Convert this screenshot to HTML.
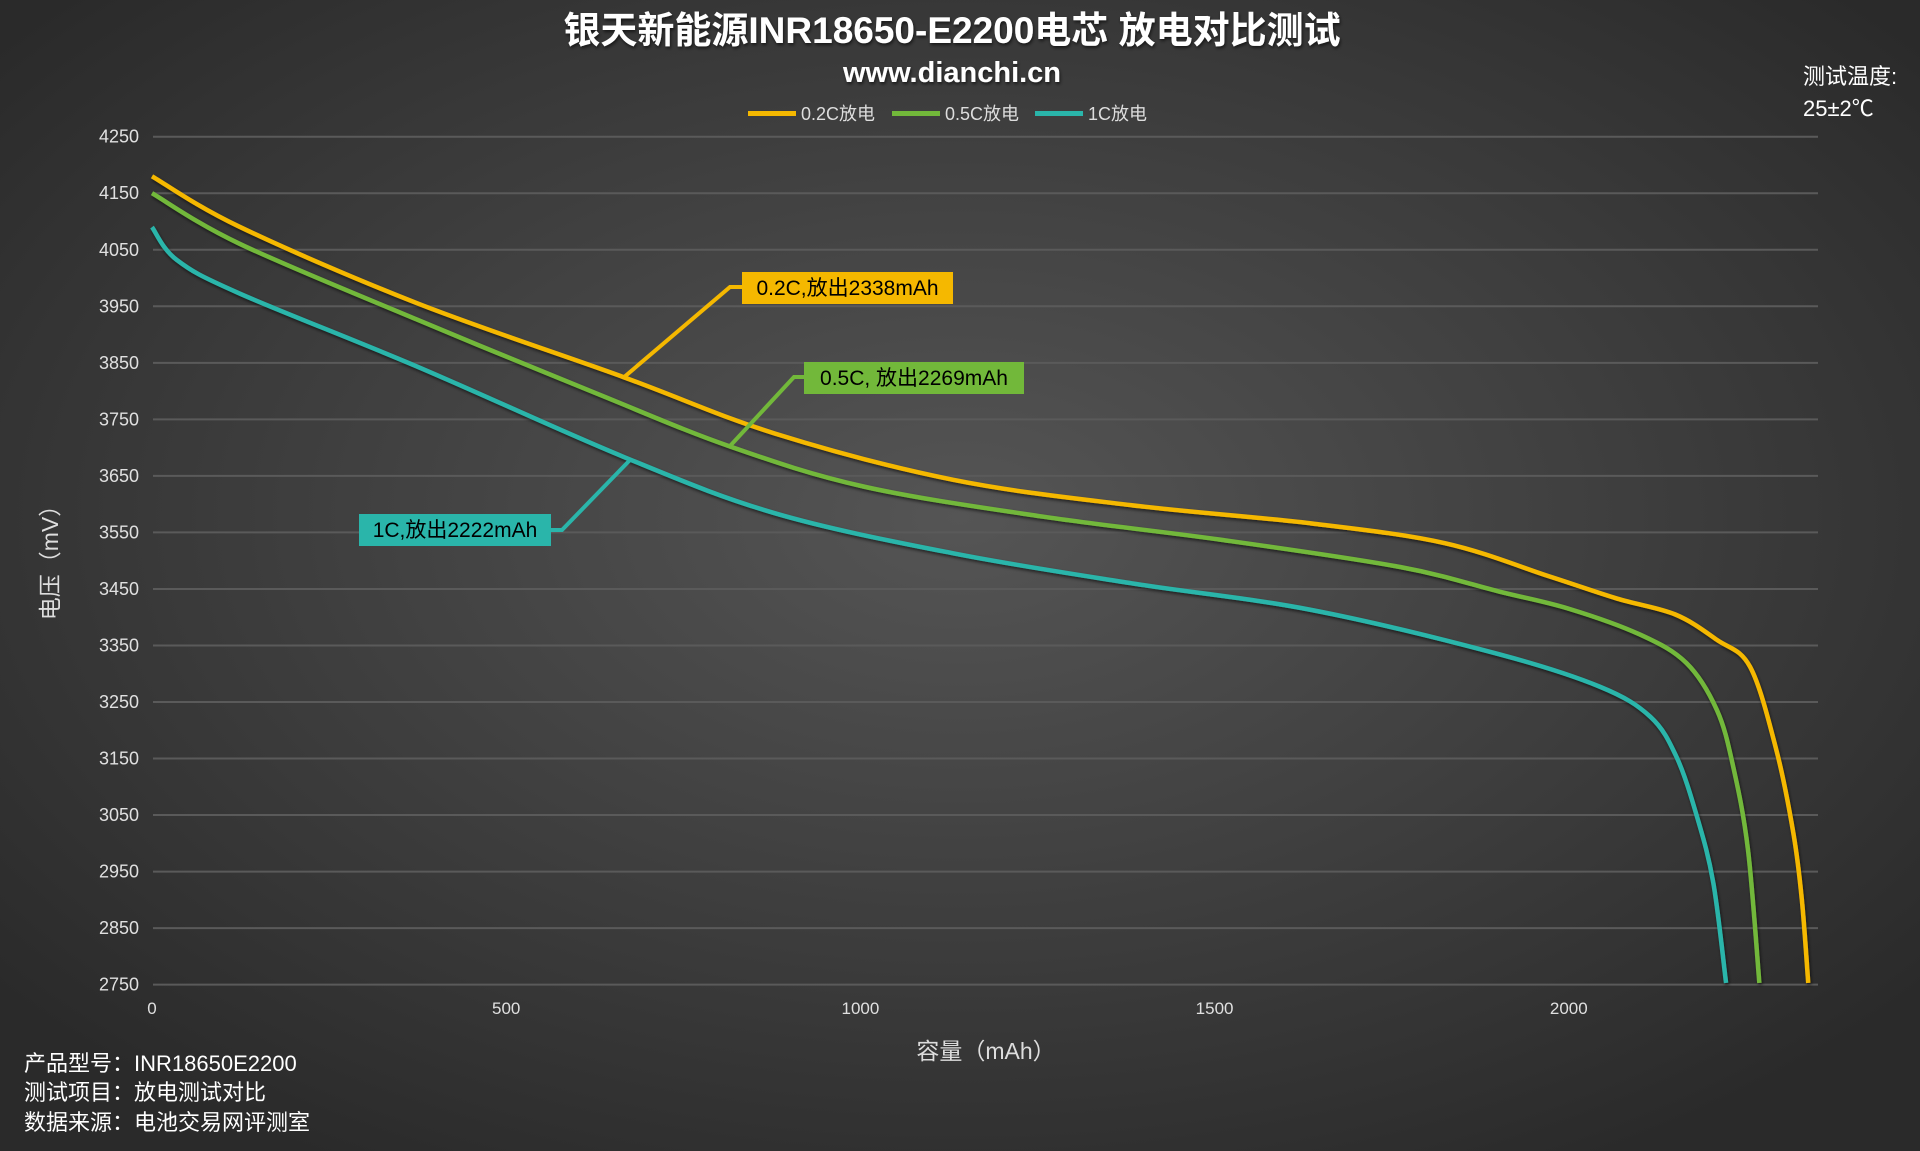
<!DOCTYPE html>
<html><head><meta charset="utf-8"><style>
html,body{margin:0;padding:0;width:1920px;height:1151px;overflow:hidden;background:#333}
svg{display:block}
text{font-family:"Liberation Sans","Noto Sans CJK SC",sans-serif}
</style></head><body>
<svg id="chart" width="1920" height="1151" viewBox="0 0 1920 1151">
<defs><radialGradient id="bg" cx="50%" cy="45%" r="65%"><stop offset="0" stop-color="#555"/><stop offset="1" stop-color="#2a2a2a"/></radialGradient>
<filter id="sh"><feDropShadow dx="1" dy="2" stdDeviation="1.5" flood-color="#000" flood-opacity="0.6"/></filter></defs>
<rect width="1920" height="1151" fill="url(#bg)"/>
<text x="952" y="43" text-anchor="middle" font-size="37" font-weight="bold" fill="#fff" filter="url(#sh)">银天新能源INR18650-E2200电芯 放电对比测试</text>
<text x="952" y="82" text-anchor="middle" font-size="29" font-weight="bold" fill="#fff" filter="url(#sh)">www.dianchi.cn</text>
<g id="legend"></g>
<text x="1803" y="84" font-size="22" fill="#fff">测试温度:</text>
<text x="1803" y="116" font-size="22" fill="#fff">25±2℃</text>
<g id="grid"></g><g id="series"></g><g id="annot"></g>
<text transform="translate(58,557) rotate(-90)" text-anchor="middle" font-size="23" fill="#ddd">电压（mV）</text>
<text x="986" y="1059" text-anchor="middle" font-size="23" fill="#ddd">容量（mAh）</text>
<text x="24" y="1071" font-size="22" fill="#fff">产品型号：INR18650E2200</text>
<text x="24" y="1100" font-size="22" fill="#fff">测试项目：放电测试对比</text>
<text x="24" y="1130" font-size="22" fill="#fff">数据来源：电池交易网评测室</text>
</svg>
<script>
const yTicks=[4250,4150,4050,3950,3850,3750,3650,3550,3450,3350,3250,3150,3050,2950,2850,2750];
const xTicks=[0,500,1000,1500,2000];
const seriesNames=["0.2C放电","0.5C放电","1C放电"];
const seriesColors=["#f5b800","#72b83a","#2ab5aa"];
const cap02=[0,123,375,665,879,1131,1383,1636,1825,1973,2068,2150,2209,2256,2293,2317,2329,2338];
const v02=[4180,4091,3955,3825,3725,3643,3598,3566,3531,3472,3433,3405,3360,3312,3165,3018,2900,2753];
const cap05=[0,123,375,627,816,1005,1257,1509,1761,1903,2000,2101,2166,2209,2232,2253,2269];
const v05=[4150,4061,3926,3796,3702,3631,3578,3537,3489,3445,3415,3369,3319,3236,3136,2988,2753];
const cap1=[0,35,123,375,665,879,1131,1383,1636,1900,2044,2115,2152,2181,2204,2222];
const v1=[4090,4032,3973,3843,3684,3584,3513,3460,3413,3335,3277,3224,3153,3047,2930,2753];
const X0=152,XK=0.7084,Y0=136.7,YK=0.5653;
const xs=v=>X0+v*XK, ys=v=>Y0+(4250-v)*YK;
const NS="http://www.w3.org/2000/svg";
function mk(t,a,p){const e=document.createElementNS(NS,t);for(const k in a)e.setAttribute(k,a[k]);p.appendChild(e);return e;}
const grid=document.getElementById('grid');
yTicks.forEach(v=>{
 const l=mk('line',{x1:153,x2:1818,y1:ys(v),y2:ys(v),stroke:'#5a5a5a','stroke-width':2},grid);
 
 
 const t=mk('text',{x:139,y:ys(v)+6,'text-anchor':'end','font-size':18,fill:'#e0e0e0'},grid);t.textContent=v;
 
 
});
xTicks.forEach(v=>{
 const t=mk('text',{x:xs(v),y:1014,'text-anchor':'middle','font-size':17,fill:'#e0e0e0'},grid);t.textContent=v;
 
 
});
function smooth(pts){let d=`M${pts[0][0]},${pts[0][1]}`;for(let i=0;i<pts.length-1;i++){const p0=pts[i-1]||pts[i],p1=pts[i],p2=pts[i+1],p3=pts[i+2]||p2;
 d+=` C${p1[0]+(p2[0]-p0[0])/6},${p1[1]+(p2[1]-p0[1])/6} ${p2[0]-(p3[0]-p1[0])/6},${p2[1]-(p3[1]-p1[1])/6} ${p2[0]},${p2[1]}`;}return d;}
const ser=document.getElementById('series');
[[cap02,v02],[cap05,v05],[cap1,v1]].forEach((s,i)=>{
 const pts=s[0].map((c,j)=>[xs(c),ys(s[1][j])]);
 const p=mk('path',{d:smooth(pts),fill:'none',stroke:seriesColors[i],'stroke-width':4.5,'stroke-linejoin':'round',filter:'url(#sh)'},ser);
 
 
});
const lg=document.getElementById('legend');
const lx=[748,892,1035];
seriesNames.forEach((n,i)=>{
 const r=mk('rect',{x:lx[i],y:111,width:48,height:5,fill:seriesColors[i]},lg);
 
 
 const t=mk('text',{x:lx[i]+53,y:120,'font-size':18,fill:'#ddd'},lg);t.textContent=n;
 
 
});
const an=document.getElementById('annot');
const notes=[
 {txt:'0.2C,放出2338mAh',c:0,pts:[[623,378],[730,287],[742,287]],bx:742,by:272,bw:211},
 {txt:'0.5C, 放出2269mAh',c:1,pts:[[730,446],[794,377],[804,377]],bx:804,by:362,bw:220},
 {txt:'1C,放出2222mAh',c:2,pts:[[630,460],[562,530],[551,530]],bx:359,by:514,bw:192}];
notes.forEach(n=>{
 const l=mk('polyline',{points:n.pts.map(p=>p.join(',')).join(' '),fill:'none',stroke:seriesColors[n.c],'stroke-width':4},an);
 
 
 const r=mk('rect',{x:n.bx,y:n.by,width:n.bw,height:32,fill:seriesColors[n.c]},an);
 
 
 const t=mk('text',{x:n.bx+n.bw/2,y:n.by+23,'text-anchor':'middle','font-size':21,fill:'#000'},an);t.textContent=n.txt;
 
 
});
</script>
</body></html>
